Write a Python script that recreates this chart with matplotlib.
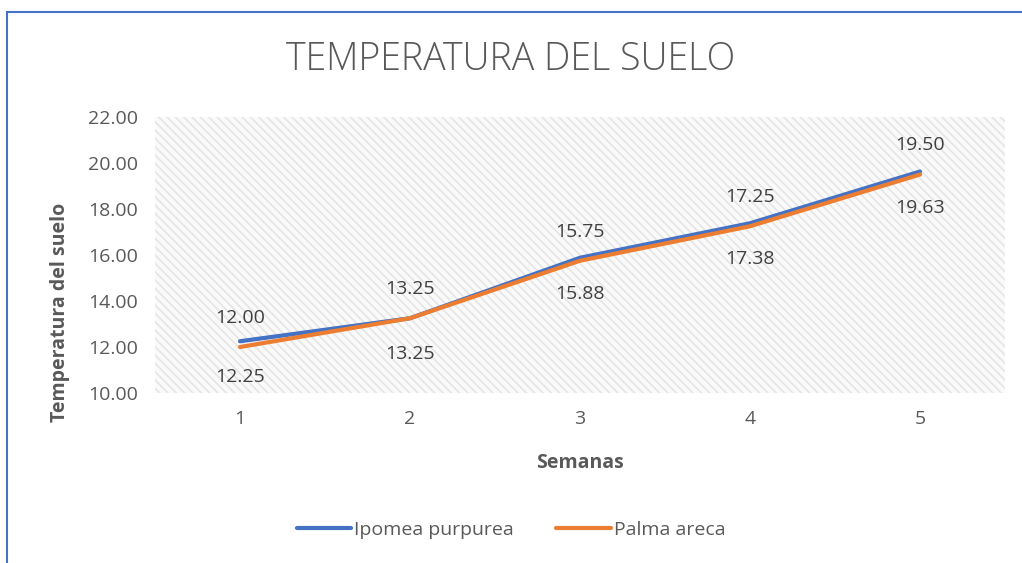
import matplotlib
matplotlib.use("Agg")
import matplotlib.pyplot as plt
from matplotlib.patches import Rectangle

weeks = ["1", "2", "3", "4", "5"]
ipomea = [12.25, 13.25, 15.88, 17.38, 19.63]
palma = [12.00, 13.25, 15.75, 17.25, 19.50]

BLUE = "#4472C4"
ORANGE = "#ED7D31"
GREY = "#595959"

plt.rcParams["font.family"] = ["Open Sans", "DejaVu Sans"]
plt.rcParams["hatch.linewidth"] = 1.3
plt.rcParams["hatch.color"] = "#e6e6e6"

fig = plt.figure(figsize=(10.22, 5.63), dpi=100)
# chart border (blue frame, left/top visible)
fig.patches.append(Rectangle((7 / 1022, -0.1), 1.2, 1 - 12 / 563 + 0.1,
                             transform=fig.transFigure, fill=False,
                             edgecolor=BLUE, linewidth=1.5))

ax = fig.add_axes([155 / 1022, 1 - 393 / 563, 850 / 1022, 276 / 563])
ax.add_patch(Rectangle((0, 0), 1, 1, transform=ax.transAxes, facecolor="#fafafa",
                       hatch="\\\\\\\\", edgecolor="#e6e6e6", linewidth=0, zorder=0))

x = list(range(len(weeks)))
ax.plot(x, ipomea, color=BLUE, linewidth=3, solid_capstyle="round",
        label="Ipomea purpurea", zorder=3)
ax.plot(x, palma, color=ORANGE, linewidth=3, solid_capstyle="round",
        label="Palma areca", zorder=4)

for xi, v in zip(x, palma):
    ax.annotate(f"{v:.2f}", (xi, v), xytext=(0, 21), textcoords="offset points",
                ha="center", va="center", fontsize=14, color="#404040")
for xi, v in zip(x, ipomea):
    ax.annotate(f"{v:.2f}", (xi, v), xytext=(0, -26), textcoords="offset points",
                ha="center", va="center", fontsize=14, color="#404040")

ax.set_xlim(-0.5, 4.5)
ax.set_ylim(10, 22)
ax.set_yticks([10, 12, 14, 16, 18, 20, 22])
ax.set_yticklabels([f"{t:.2f}" for t in [10, 12, 14, 16, 18, 20, 22]])
ax.set_xticks(x)
ax.set_xticklabels(weeks)
ax.tick_params(length=0, labelsize=14, colors=GREY, pad=12)
for s in ax.spines.values():
    s.set_visible(False)

ax.set_xlabel("Semanas", fontsize=14, fontweight="bold", color=GREY, labelpad=18)
# Excel puts the axis title a bit below the plot-area centre
fig.text(60 / 1022, 1 - 312 / 563, "Temperatura del suelo", rotation=90,
         ha="center", va="center", fontsize=14, fontweight="bold", color=GREY)

fig.text(0.5, 1 - 60 / 563, "TEMPERATURA DEL SUELO", ha="center", va="center",
         fontsize=27, color=GREY, fontweight="light")

fig.legend(loc="center", bbox_to_anchor=(0.5, 1 - 530 / 563), ncol=2, frameon=False,
           fontsize=14, labelcolor=GREY, handlelength=2.8, handletextpad=0.15,
           columnspacing=2.2)

fig.savefig("out.png", dpi=100)
